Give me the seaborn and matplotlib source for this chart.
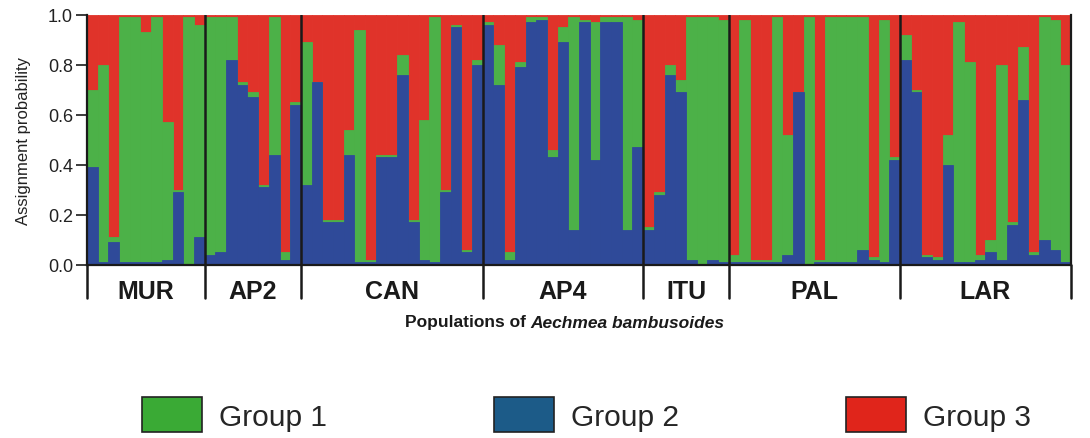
import matplotlib as mpl
mpl.use("Agg")
import matplotlib.pyplot as plt
import matplotlib.transforms as mtransforms
from matplotlib.patches import Patch
import seaborn as sns
import pandas as pd
import numpy as np

# populations and number of individuals in each
pops = ['MUR', 'AP2', 'CAN', 'AP4', 'ITU', 'PAL', 'LAR']
pop_sizes = [11, 9, 17, 15, 8, 16, 16]

# assignment probabilities per individual (Group 3 is the remainder)
group2 = [0.39, 0.01, 0.09, 0.01, 0.01, 0.01, 0.01, 0.02, 0.29, 0.00, 0.11,  # MUR
          0.04, 0.05, 0.82, 0.72, 0.67, 0.31, 0.44, 0.02, 0.64,  # AP2
          0.32, 0.73, 0.17, 0.17, 0.44, 0.01, 0.01, 0.43, 0.43, 0.76, 0.17,
          0.02, 0.01, 0.29, 0.95, 0.05, 0.80,  # CAN
          0.96, 0.72, 0.02, 0.79, 0.97, 0.98, 0.43, 0.89, 0.14, 0.97, 0.42,
          0.97, 0.97, 0.14, 0.47,  # AP4
          0.14, 0.28, 0.76, 0.69, 0.02, 0.00, 0.02, 0.01,  # ITU
          0.01, 0.01, 0.01, 0.01, 0.01, 0.04, 0.69, 0.00, 0.01, 0.01, 0.01,
          0.01, 0.06, 0.02, 0.01, 0.42,  # PAL
          0.82, 0.69, 0.03, 0.02, 0.40, 0.01, 0.01, 0.02, 0.05, 0.02, 0.16,
          0.66, 0.04, 0.10, 0.06, 0.01]  # LAR
group1 = [0.31, 0.79, 0.02, 0.98, 0.98, 0.92, 0.98, 0.55, 0.01, 0.99, 0.85,  # MUR
          0.95, 0.94, 0.17, 0.01, 0.02, 0.01, 0.55, 0.03, 0.01,  # AP2
          0.57, 0.00, 0.01, 0.01, 0.10, 0.93, 0.01, 0.01, 0.01, 0.08, 0.01,
          0.56, 0.98, 0.01, 0.01, 0.01, 0.02,  # CAN
          0.01, 0.16, 0.03, 0.02, 0.02, 0.01, 0.03, 0.06, 0.85, 0.01, 0.55,
          0.02, 0.02, 0.85, 0.51,  # AP4
          0.01, 0.01, 0.04, 0.05, 0.97, 0.99, 0.97, 0.97,  # ITU
          0.03, 0.97, 0.01, 0.01, 0.98, 0.48, 0.00, 0.99, 0.01, 0.98, 0.98,
          0.98, 0.93, 0.01, 0.97, 0.01,  # PAL
          0.10, 0.01, 0.01, 0.01, 0.12, 0.96, 0.80, 0.02, 0.05, 0.78, 0.01,
          0.21, 0.01, 0.89, 0.92, 0.79]  # LAR
groups = ['Group 1', 'Group 2', 'Group 3']

GREEN = '#4cb148'
BLUE = '#2f4a99'
RED = '#e0332a'
LEG_COLORS = ['#3aaa35', '#1c5b88', '#e0251b']
LINE = '#1a1a1a'

sns.set_style('ticks')
plt.rcParams['font.family'] = ['Liberation Sans', 'DejaVu Sans']

df = pd.DataFrame({'ind': np.arange(len(group1)), 'g1': group1, 'g2': group2})
df['g3'] = 1.0 - df['g1'] - df['g2']
df['top1'] = df['g2'] + df['g1']
df['top3'] = df['top1'] + df['g3']

fig = plt.figure(figsize=(10.9, 4.39), dpi=100)
ax = fig.add_axes([0.0798, 0.3941, 0.9028, 0.5695])

for col, c in [('top3', RED), ('top1', GREEN), ('g2', BLUE)]:
    sns.barplot(data=df, x='ind', y=col, color=c, saturation=1, width=1,
                errorbar=None, linewidth=0.6, edgecolor=c, ax=ax)

n = len(df)
ax.set_xlim(-0.5, n - 0.5)
ax.set_ylim(0, 1)
ax.set_xticks([])
ax.set_xlabel('')
ax.set_yticks([0, 0.2, 0.4, 0.6, 0.8, 1.0])
ax.set_yticklabels(['0.0', '0.2', '0.4', '0.6', '0.8', '1.0'], fontsize=13, color='#222222')
ax.tick_params(axis='y', length=8, width=1.2, color=LINE, pad=2)
ax.set_ylabel('Assignment probability', fontsize=12, color='#222222', labelpad=12)
ax.spines['top'].set_visible(False)
for s in ['left', 'right', 'bottom']:
    ax.spines[s].set_color(LINE)
    ax.spines[s].set_linewidth(1.6)

# population boundaries
edges = np.concatenate([[0], np.cumsum(pop_sizes)]) - 0.5
trans = mtransforms.blended_transform_factory(ax.transData, ax.transAxes)
for b in edges[1:-1]:
    ax.axvline(b, color=LINE, lw=1.8)
for b in edges:
    ax.plot([b, b], [0, -0.133], transform=trans, clip_on=False, color=LINE, lw=1.8)
for name, lo, hi in zip(pops, edges[:-1], edges[1:]):
    ax.text((lo + hi) / 2, -0.105, name, transform=trans, ha='center', va='center',
            fontsize=18, fontweight='bold', color='#1a1a1a')

# x label with italic species name
t1 = fig.text(405 / 1090, 1 - 323 / 439, 'Populations of', ha='left', va='center',
              fontsize=12.5, fontweight='bold', color='#1a1a1a')
r = fig.canvas.get_renderer()
x_end = fig.transFigure.inverted().transform(t1.get_window_extent(r).p1)[0]
fig.text(x_end + 4 / 1090, 1 - 323 / 439, 'Aechmea bambusoides', ha='left', va='center',
         fontsize=12.5, fontweight='bold', style='italic', color='#1a1a1a')

handles = [Patch(facecolor=c, edgecolor='#222222', linewidth=1.2) for c in LEG_COLORS]
fig.legend(handles, groups, loc='center', bbox_to_anchor=(0.538, 0.053), ncol=3,
           frameon=False, fontsize=21.5, handlelength=2.0, handleheight=1.45,
           handletextpad=0.57, columnspacing=5.6)

fig.savefig('out.png', dpi=100)
